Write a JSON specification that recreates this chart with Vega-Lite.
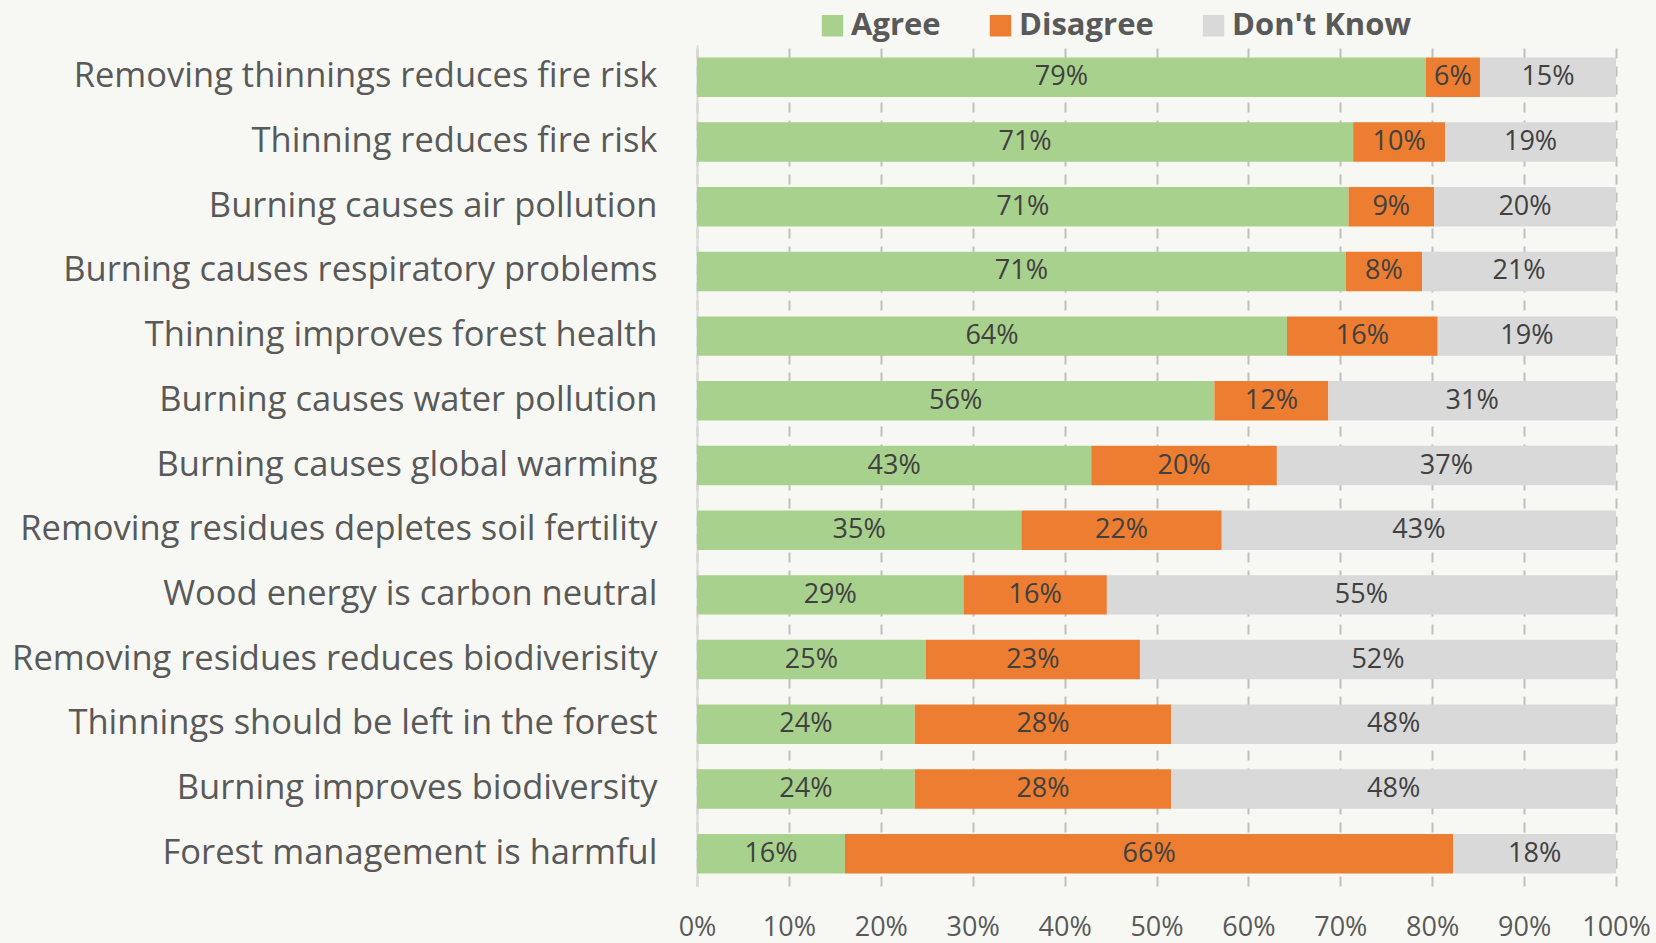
{
  "$schema": "https://vega.github.io/schema/vega-lite/v6.json",
  "autosize": {"type": "none"},
  "padding": {"left": 697, "top": 45, "right": 40, "bottom": 57},
  "width": 919,
  "height": 841,
  "background": "#f7f8f3",
  "config": {"view": {"stroke": null}, "font": "Open Sans"},
  "data": {"values": [
    {"item": "Removing thinnings reduces fire risk", "response": "Agree", "v": 0.793},
    {"item": "Removing thinnings reduces fire risk", "response": "Disagree", "v": 0.059},
    {"item": "Removing thinnings reduces fire risk", "response": "Don't Know", "v": 0.148},
    {"item": "Thinning reduces fire risk", "response": "Agree", "v": 0.714},
    {"item": "Thinning reduces fire risk", "response": "Disagree", "v": 0.100},
    {"item": "Thinning reduces fire risk", "response": "Don't Know", "v": 0.186},
    {"item": "Burning causes air pollution", "response": "Agree", "v": 0.709},
    {"item": "Burning causes air pollution", "response": "Disagree", "v": 0.093},
    {"item": "Burning causes air pollution", "response": "Don't Know", "v": 0.198},
    {"item": "Burning causes respiratory problems", "response": "Agree", "v": 0.706},
    {"item": "Burning causes respiratory problems", "response": "Disagree", "v": 0.083},
    {"item": "Burning causes respiratory problems", "response": "Don't Know", "v": 0.211},
    {"item": "Thinning improves forest health", "response": "Agree", "v": 0.642},
    {"item": "Thinning improves forest health", "response": "Disagree", "v": 0.164},
    {"item": "Thinning improves forest health", "response": "Don't Know", "v": 0.194},
    {"item": "Burning causes water pollution", "response": "Agree", "v": 0.563},
    {"item": "Burning causes water pollution", "response": "Disagree", "v": 0.124},
    {"item": "Burning causes water pollution", "response": "Don't Know", "v": 0.313},
    {"item": "Burning causes global warming", "response": "Agree", "v": 0.429},
    {"item": "Burning causes global warming", "response": "Disagree", "v": 0.202},
    {"item": "Burning causes global warming", "response": "Don't Know", "v": 0.369},
    {"item": "Removing residues depletes soil fertility", "response": "Agree", "v": 0.353},
    {"item": "Removing residues depletes soil fertility", "response": "Disagree", "v": 0.218},
    {"item": "Removing residues depletes soil fertility", "response": "Don't Know", "v": 0.429},
    {"item": "Wood energy is carbon neutral", "response": "Agree", "v": 0.290},
    {"item": "Wood energy is carbon neutral", "response": "Disagree", "v": 0.156},
    {"item": "Wood energy is carbon neutral", "response": "Don't Know", "v": 0.554},
    {"item": "Removing residues reduces biodiverisity", "response": "Agree", "v": 0.249},
    {"item": "Removing residues reduces biodiverisity", "response": "Disagree", "v": 0.233},
    {"item": "Removing residues reduces biodiverisity", "response": "Don't Know", "v": 0.518},
    {"item": "Thinnings should be left in the forest", "response": "Agree", "v": 0.237},
    {"item": "Thinnings should be left in the forest", "response": "Disagree", "v": 0.279},
    {"item": "Thinnings should be left in the forest", "response": "Don't Know", "v": 0.484},
    {"item": "Burning improves biodiversity", "response": "Agree", "v": 0.237},
    {"item": "Burning improves biodiversity", "response": "Disagree", "v": 0.279},
    {"item": "Burning improves biodiversity", "response": "Don't Know", "v": 0.484},
    {"item": "Forest management is harmful", "response": "Agree", "v": 0.161},
    {"item": "Forest management is harmful", "response": "Disagree", "v": 0.662},
    {"item": "Forest management is harmful", "response": "Don't Know", "v": 0.177}
  ]},
  "transform": [
    {"stack": "v", "groupby": ["item"], "sort": [{"field": "response", "order": "ascending"}], "as": ["v0", "v1"]}
  ],
  "encoding": {
    "y": {
      "field": "item", "type": "nominal", "sort": null, "title": null,
      "scale": {"paddingInner": 0.39, "paddingOuter": 0.195},
      "axis": {
        "ticks": false, "domain": true, "domainColor": "#d9d9d9", "domainWidth": 2,
        "labelFont": "Open Sans", "labelFontSize": 34.5, "labelColor": "#595959",
        "labelPadding": 40, "labelLimit": 800, "grid": false
      }
    }
  },
  "layer": [
    {
      "mark": {"type": "bar"},
      "encoding": {
        "x": {
          "field": "v0", "type": "quantitative", "title": null,
          "scale": {"domain": [0, 1], "nice": false},
          "axis": {
            "format": ".0%", "values": [0, 0.1, 0.2, 0.3, 0.4, 0.5, 0.6, 0.7, 0.8, 0.9, 1],
            "domain": false, "ticks": false, "grid": true, "gridColor": "#bfbfbf",
            "gridDash": [10, 8], "gridWidth": 2,
            "labelFont": "Open Sans", "labelFontSize": 27, "labelColor": "#595959",
            "labelPadding": 28, "labelFlush": false
          }
        },
        "x2": {"field": "v1"},
        "color": {
          "field": "response", "type": "nominal", "title": null,
          "scale": {"domain": ["Agree", "Disagree", "Don't Know"], "range": ["#a9d18e", "#ed7d31", "#d9d9d9"]},
          "legend": {
            "orient": "none", "direction": "horizontal", "legendX": 120, "legendY": -35,
            "symbolType": "square", "symbolSize": 460, "symbolStrokeWidth": 0, "symbolOpacity": 1,
            "labelFont": "Open Sans", "labelFontSize": 31, "labelFontWeight": "bold", "labelColor": "#595959",
            "labelOffset": 3, "columnPadding": 44, "labelLimit": 400
          }
        }
      }
    },
    {
      "transform": [{"fold": ["v0", "v1"], "as": ["edge", "pos"]}],
      "mark": {"type": "text", "font": "Open Sans", "fontSize": 27, "color": "#404040", "baseline": "middle", "align": "center"},
      "encoding": {
        "x": {"field": "pos", "type": "quantitative", "aggregate": "mean"},
        "detail": {"field": "response", "type": "nominal"},
        "text": {"field": "v", "type": "quantitative", "aggregate": "max", "format": ".0%"}
      }
    }
  ]
}
